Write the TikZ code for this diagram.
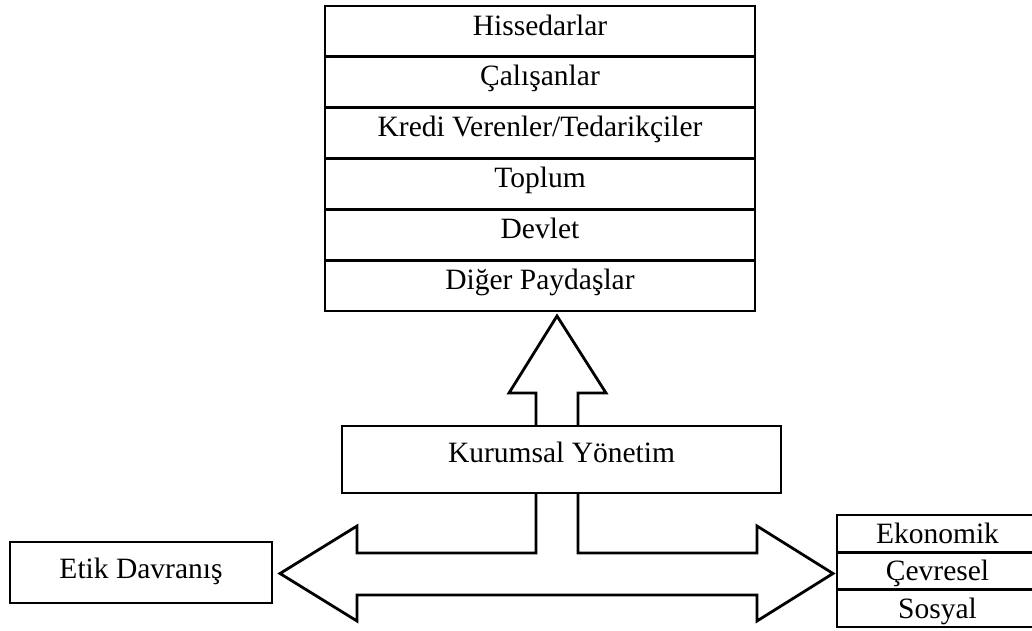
\documentclass[tikz,border=0pt]{standalone}
\usepackage{fontspec}
\setmainfont{Liberation Serif}
\usetikzlibrary{calc}
\begin{document}
\begin{tikzpicture}[x=1pt,y=-1pt,
  box/.style={draw, line width=2.8pt, inner sep=0pt, outer sep=0pt,
    font=\fontsize{29.5}{30}\selectfont, align=center},
  toprow/.style={box, minimum width=430pt, minimum height=50.83pt,
    text height=29pt, text depth=21.83pt, anchor=north},
  siderow/.style={box, minimum width=201pt, minimum height=37.33pt,
    text height=28.5pt, text depth=8.83pt, anchor=north},
  blockarrow/.style={draw, line width=2.8pt, line join=miter}]
\useasboundingbox (0,0) rectangle (1032,630);
\clip (0,0) rectangle (1032,630);

% stakeholder stack
\node[toprow] (r1) at (540,6) {Hissedarlar};
\node[toprow] (r2) at (r1.south) {Çalışanlar};
\node[toprow] (r3) at (r2.south) {Kredi Verenler/Tedarikçiler};
\node[toprow] (r4) at (r3.south) {Toplum};
\node[toprow] (r5) at (r4.south) {Devlet};
\node[toprow] (r6) at (r5.south) {Diğer Paydaşlar};

% corporate governance
\node[box, minimum width=439pt, minimum height=67pt,
  text height=36pt, text depth=31pt, anchor=north] (kur) at (561.5,426) {Kurumsal Yönetim};

% ethical behaviour
\node[box, minimum width=262pt, minimum height=61pt,
  text height=36pt, text depth=25pt, anchor=north] (etik) at (141,542) {Etik Davranış};

% sustainability stack
\node[siderow] (s1) at (937.5,515) {Ekonomik};
\node[siderow] (s2) at (s1.south) {Çevresel};
\node[siderow] (s3) at (s2.south) {Sosyal};

% arrow axis
\coordinate (ax) at (557,0);
\coordinate (hc) at (0,573.5);

% upward block arrow
\draw[blockarrow]
  ($(ax |- kur.north)+(-21,0)$) -- ++(0,-33) -- ++(-27,0)
  -- ($(ax |- r6.south)+(0,5)$)
  -- ($(ax |- kur.north)+(49,-33)$) -- ++(-28,0) -- ++(0,33);

% double-headed block arrow
\draw[blockarrow]
  ($(ax |- kur.south)+(-21,0)$) -- (536,553) -- (357,553) -- (357,526)
  -- ($(etik.east |- hc)+(8,0)$)
  -- (357,621) -- (357,595) -- (757,595) -- (757,621)
  -- ($(s2.west |- hc)+(-4,0)$)
  -- (757,526) -- (757,553) -- (578,553)
  -- ($(ax |- kur.south)+(21,0)$);
\end{tikzpicture}
\end{document}
